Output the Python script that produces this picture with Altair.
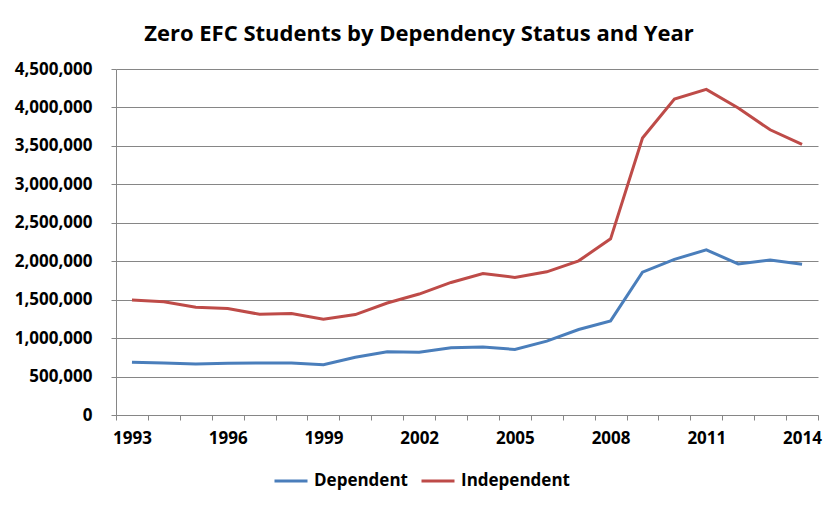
import altair as alt
import pandas as pd

years = list(range(1993, 2015))
dependent = [685000, 677000, 664000, 672000, 677000, 677000, 655000, 750000, 823000, 815000,
             875000, 884000, 853000, 961000, 1112000, 1224000, 1858000, 2024000, 2148000,
             1965000, 2017000, 1961000]
independent = [1496000, 1474000, 1401000, 1384000, 1310000, 1319000, 1246000, 1306000, 1457000,
               1573000, 1724000, 1840000, 1789000, 1862000, 2005000, 2291000, 3602000, 4109000,
               4235000, 3992000, 3710000, 3519000]
series = ["Dependent", "Independent"]
colors = ["#4A7EBB", "#BE4B48"]

rows = []
for y, d, i in zip(years, dependent, independent):
    rows.append({"Year": y, "Series": series[0], "Value": d})
    rows.append({"Year": y, "Series": series[1], "Value": i})
df = pd.DataFrame(rows)

font = "Open Sans"
tick_vals = [y + h for y in years for h in (0.0, 0.5)] + [1992.5]

chart = alt.Chart(df).mark_line(strokeWidth=3).encode(
    x=alt.X("Year:Q",
            scale=alt.Scale(domain=[1992.5, 2014.5], nice=False, zero=False),
            axis=alt.Axis(title=None, values=tick_vals, grid=False,
                          labelExpr="(datum.value % 1 == 0 && (datum.value - 1993) % 3 == 0) ? toString(datum.value) : ''",
                          tickOpacity=alt.condition("datum.value % 1 == 0", alt.value(0), alt.value(1)),
                          tickSize=5, tickColor="#868686", domainColor="#868686",
                          labelPadding=10, labelFont=font, labelFontSize=17, labelFontWeight="bold",
                          labelColor="#000000", labelOverlap=False, labelFlush=False)),
    y=alt.Y("Value:Q",
            scale=alt.Scale(domain=[0, 4500000], nice=False),
            axis=alt.Axis(title=None, values=list(range(0, 4500001, 500000)), format=",d",
                          tickSize=5, tickColor="#868686", domainColor="#868686",
                          gridColor="#868686", gridWidth=1, labelPadding=19,
                          labelFont=font, labelFontSize=17, labelFontWeight="bold",
                          labelColor="#000000")),
    color=alt.Color("Series:N",
                    scale=alt.Scale(domain=series, range=colors),
                    legend=alt.Legend(title=None, orient="none", legendX=157, legendY=394,
                                      direction="horizontal", symbolType="stroke",
                                      symbolSize=1089, symbolStrokeWidth=3, labelOffset=5,
                                      columnPadding=7, labelFont=font, labelFontSize=17,
                                      labelFontWeight="bold", labelColor="#000000", padding=0)),
).properties(
    width=702,
    height=346,
    autosize="none",
    padding={"left": 108, "top": 61, "right": 12, "bottom": 86},
    title=alt.TitleParams("Zero EFC Students by Dependency Status and Year",
                          font=font, fontSize=22, fontWeight="bold", color="#000000",
                          anchor="middle", dx=-48, offset=-3, baseline="alphabetic"),
).configure_view(stroke=None)

chart.save("out.html", embed_options={"renderer": "svg", "actions": False})
